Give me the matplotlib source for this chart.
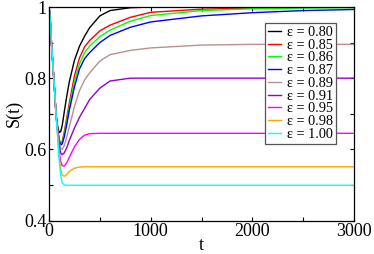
import matplotlib
matplotlib.use('Agg')
import matplotlib.pyplot as plt
from matplotlib.ticker import MultipleLocator, FixedLocator, FixedFormatter

plt.rcParams['font.family'] = ['Liberation Serif', 'DejaVu Serif']

# time grid shared by all curves
t = [0, 10, 25, 40, 55, 70, 85, 100, 115, 130, 150, 175, 200, 250, 300,
     350, 400, 500, 600, 800, 1000, 1500, 2000, 2500, 3000]

# common initial decay (t = 0 .. 70)
drop = [1.0, 0.975, 0.895, 0.83, 0.765, 0.695]

s_080 = drop + [0.665, 0.647, 0.650, 0.667, 0.705, 0.750, 0.790, 0.850, 0.890,
                0.918, 0.942, 0.975, 0.990, 0.998, 1.0, 1.0, 1.0, 1.0, 1.0]
s_085 = drop + [0.657, 0.628, 0.615, 0.622, 0.648, 0.690, 0.730, 0.806, 0.857,
                0.888, 0.906, 0.933, 0.949, 0.971, 0.985, 0.994, 0.997, 0.999, 1.0]
s_086 = drop + [0.656, 0.627, 0.614, 0.619, 0.642, 0.680, 0.720, 0.790, 0.840,
                0.872, 0.890, 0.917, 0.935, 0.960, 0.976, 0.990, 0.995, 0.997, 0.998]
s_087 = drop + [0.655, 0.625, 0.612, 0.615, 0.635, 0.670, 0.710, 0.775, 0.826,
                0.855, 0.872, 0.900, 0.920, 0.943, 0.958, 0.975, 0.984, 0.990, 0.993]
s_089 = drop + [0.652, 0.620, 0.603, 0.600, 0.610, 0.635, 0.663, 0.720, 0.765,
                0.795, 0.815, 0.848, 0.866, 0.878, 0.885, 0.893, 0.895, 0.895, 0.895]
s_091 = drop + [0.650, 0.610, 0.590, 0.585, 0.590, 0.605, 0.625, 0.660, 0.690,
                0.715, 0.740, 0.772, 0.792, 0.800, 0.800, 0.800, 0.800, 0.800, 0.800]
s_095 = drop + [0.645, 0.595, 0.565, 0.554, 0.553, 0.562, 0.578, 0.607, 0.628,
                0.640, 0.644, 0.645, 0.645, 0.645, 0.645, 0.645, 0.645, 0.645, 0.645]
s_098 = drop + [0.640, 0.580, 0.545, 0.528, 0.524, 0.530, 0.538, 0.547, 0.550,
                0.551, 0.551, 0.551, 0.551, 0.551, 0.551, 0.551, 0.551, 0.551, 0.551]
s_100 = drop + [0.635, 0.570, 0.527, 0.505, 0.500, 0.499, 0.499, 0.499, 0.499,
                0.499, 0.499, 0.499, 0.499, 0.499, 0.499, 0.499, 0.499, 0.499, 0.499]

series = [s_080, s_085, s_086, s_087, s_089, s_091, s_095, s_098, s_100]
labels = ['ε = 0.80', 'ε = 0.85', 'ε = 0.86', 'ε = 0.87', 'ε = 0.89',
          'ε = 0.91', 'ε = 0.95', 'ε = 0.98', 'ε = 1.00']
colors = ['#000000', '#ff0000', '#00ff00', '#0000ff', '#bc8f8f',
          '#9400d3', '#ff00ff', '#ffa500', '#00ffff']

fig = plt.figure(figsize=(3.74, 2.54), dpi=100)
ax = fig.add_axes([49 / 374, 1 - 220.5 / 254, 305 / 374, 213.5 / 254])

for s, lab, c in zip(series, labels, colors):
    ax.plot(t, s, color=c, lw=1.0, label=lab)

ax.set_xlim(0, 3000)
ax.set_ylim(0.4, 1.0)
ax.xaxis.set_major_locator(MultipleLocator(1000))
ax.xaxis.set_minor_locator(MultipleLocator(500))
ax.yaxis.set_major_locator(FixedLocator([0.4, 0.6, 0.8, 1.0]))
ax.yaxis.set_major_formatter(FixedFormatter(['0.4', '0.6', '0.8', '1']))
ax.yaxis.set_minor_locator(MultipleLocator(0.1))
ax.tick_params(which='both', direction='in', top=True, right=True,
               labelsize=13, width=0.8)
ax.tick_params(which='major', length=3.0, pad=2)
ax.tick_params(which='minor', length=2.6)
for sp in ax.spines.values():
    sp.set_linewidth(0.9)

ax.set_xlabel('t', fontsize=13, labelpad=-2)
ax.set_ylabel('S(t)', fontsize=13, labelpad=1)

leg = ax.legend(loc='upper right', bbox_to_anchor=(336 / 374, 1 - 23 / 254),
                bbox_transform=fig.transFigure, borderaxespad=0,
                fontsize=10.3, labelspacing=-0.02, handlelength=0.9,
                handletextpad=0.45, borderpad=0.2, fancybox=False,
                framealpha=1)
leg.get_frame().set_edgecolor('#555555')
leg.get_frame().set_linewidth(0.9)

fig.savefig('out.png', dpi=100)
